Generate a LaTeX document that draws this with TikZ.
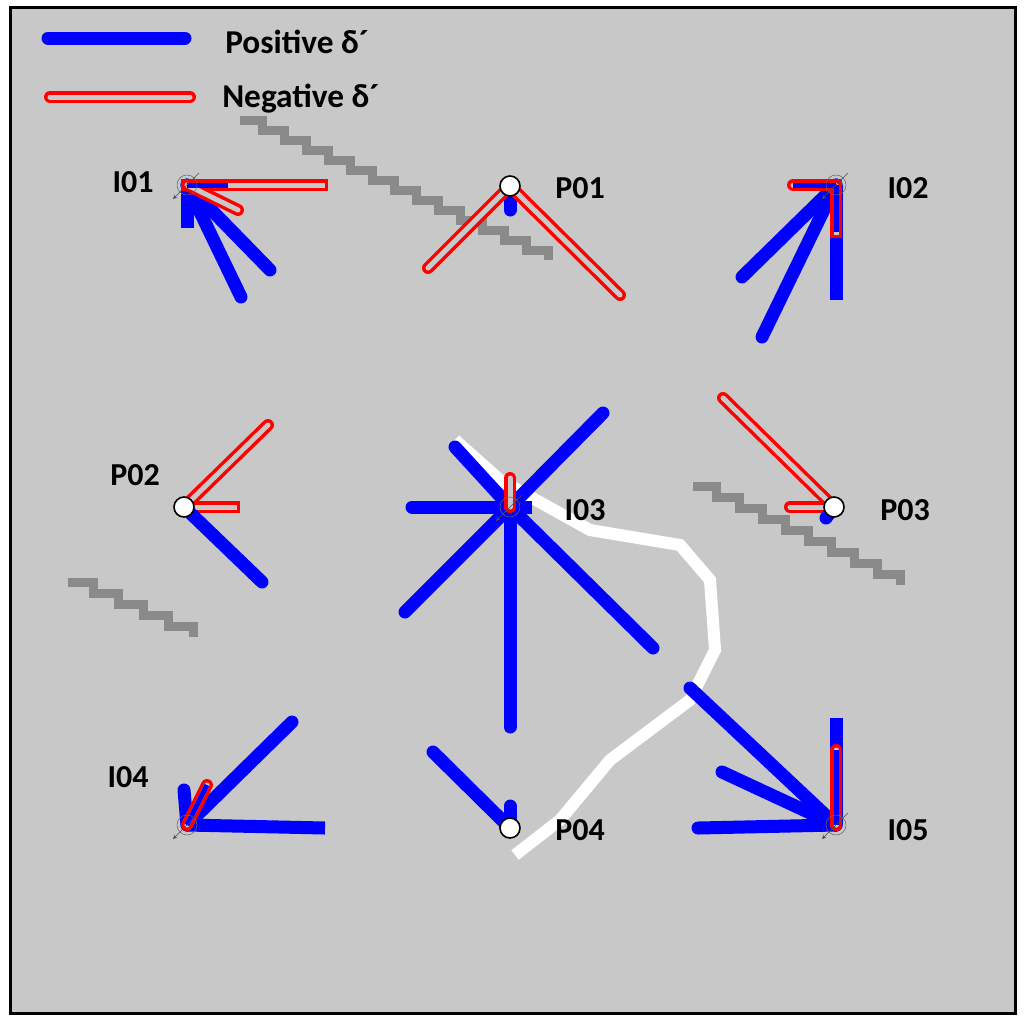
\documentclass[tikz,border=0pt]{standalone}
\usepackage{fontspec}
\setmainfont{Carlito}
\usetikzlibrary{calc}
\definecolor{bg}{RGB}{200,200,200}
\definecolor{stair}{RGB}{138,138,138}
\begin{document}
\begin{tikzpicture}[x=0.75pt,y=-0.75pt,
 plus/.style={draw=blue,line width=13*0.75pt,line cap=round},
 minus/.style={draw=red,double=bg,double distance=5*0.75pt,line width=3.5*0.75pt,line cap=round},
 inner/.style={draw=blue,line width=5*0.75pt},
 inode/.style={circle,draw=black!60,thin,minimum size=20*0.75pt,inner sep=0pt},
 pnode/.style={circle,draw=black,fill=white,line width=1.2pt,minimum size=20*0.75pt,inner sep=0pt},
 lab/.style={font=\fontsize{24}{26}\selectfont\bfseries,inner sep=0pt},
 leg/.style={font=\fontsize{25}{28}\selectfont\bfseries,inner sep=0pt},
 st/.style={draw=stair,line width=9*0.75pt}]
\useasboundingbox (0,0) rectangle (1024,1022);
\fill[white] (0,0) rectangle (1024,1022);
\draw[fill=bg,line width=3*0.75pt] (10,7) rectangle (1015,1013);
% staircases
\draw[st] (240,120) \foreach \i in {1,...,14}{ -- ++(22,0) -- ++(0,10)};
\draw[st] (693,486) \foreach \i in {1,...,9}{ -- ++(23,0) -- ++(0,11)};
\draw[st] (68,582) \foreach \i in {1,...,5}{ -- ++(25,0) -- ++(0,11)};
\draw[white,line width=12*0.75pt,line join=miter] (455,440) -- (500,480) -- (590,530) -- (680,545) -- (710,580) -- (715,650) -- (690,700) -- (610,760) -- (560,820) -- (515,855);
% legend
\coordinate (lp1) at (48,38); \coordinate (lp2) at (185,38);
\coordinate (ln1) at (50,97); \coordinate (ln2) at (190,97);
\draw[plus] (lp1) -- (lp2);
\draw[minus] (ln1) -- (ln2);
\node[leg,anchor=west] (tp) at (225,42) {Positive δ´};
\node[leg,anchor=west] (tn) at (222,99) {Negative δ´};
% node coordinates
\coordinate (I01) at (187,185); \coordinate (P01) at (510,186); \coordinate (I02) at (836,185);
\coordinate (P02) at (184,507); \coordinate (I03) at (510,507); \coordinate (P03) at (834,507);
\coordinate (I04) at (187,825); \coordinate (P04) at (510,828); \coordinate (I05) at (836,825);
% I01
\coordinate (a1) at (241,297); \coordinate (a2) at (270,270); \coordinate (a3) at (187,228);
\coordinate (a4) at (228,185); \coordinate (a5) at (322,185); \coordinate (a6) at (238,210);
\draw[plus] (I01) -- (a1); \draw[plus] (I01) -- (a2); \draw[plus,line cap=butt] (I01) -- (a3);
\draw[minus,line cap=rect] (I01) -- (a5); \draw[minus] (I01) -- (a6);
\draw[inner] (I01) -- (a4);
% P01
\coordinate (b1) at (510,210); \coordinate (b2) at (428,268); \coordinate (b3) at (620,295);
\draw[plus] (P01) -- (b1); \draw[minus] (P01) -- (b2); \draw[minus] (P01) -- (b3);
% I02
\coordinate (c1) at (742,277); \coordinate (c2) at (762,337); \coordinate (c3) at (836,300);
\coordinate (c4) at (836,232); \coordinate (c5) at (793,185);
\draw[plus] (I02) -- (c1); \draw[plus] (I02) -- (c2); \draw[plus,line cap=butt] (I02) -- (c3);
\draw[minus,line cap=rect] (I02) -- (c4); \draw[minus] (I02) -- (c5);
\draw[inner] (I02) -- (c4); \draw[inner] (I02) -- (c5);
% P02
\coordinate (d1) at (268,425); \coordinate (d2) at (234,507); \coordinate (d3) at (262,582);
\draw[minus] (P02) -- (d1); \draw[minus,line cap=rect] (P02) -- (d2); \draw[plus] (P02) -- (d3);
% I03
\coordinate (e1) at (412,507); \coordinate (e2) at (532,507); \coordinate (e3) at (603,413);
\coordinate (e4) at (455,447); \coordinate (e5) at (405,612); \coordinate (e6) at (510,727);
\coordinate (e7) at (653,648); \coordinate (e8) at (510,478);
\draw[plus] (I03) -- (e1); \draw[plus,line cap=butt] (I03) -- (e2); \draw[plus] (I03) -- (e3);
\draw[plus] (I03) -- (e4); \draw[plus] (I03) -- (e5); \draw[plus] (I03) -- (e6);
\draw[plus] (I03) -- (e7);
\draw[minus] (I03) -- (e8);
% P03
\coordinate (f1) at (723,398); \coordinate (f2) at (790,507); \coordinate (f3) at (826,518);
\draw[minus] (P03) -- (f1); \draw[minus] (P03) -- (f2); \draw[plus] (P03) -- (f3);
% I04
\coordinate (g1) at (292,722); \coordinate (g2) at (325,828); \coordinate (g3) at (184,790); \coordinate (g4) at (207,785);
\draw[plus] (I04) -- (g1); \draw[plus,line cap=butt] (I04) -- (g2); \draw[plus] (I04) -- (g3); \draw[minus] (I04) -- (g4);
\draw[inner] (I04) -- (g4);
% P04
\coordinate (h1) at (433,752); \coordinate (h2) at (510,806);
\draw[plus] (P04) -- (h1); \draw[plus] (P04) -- (h2);
% I05
\coordinate (k1) at (690,688); \coordinate (k2) at (722,772); \coordinate (k3) at (698,828); \coordinate (k4) at (836,718); \coordinate (k5) at (836,750);
\draw[plus] (I05) -- (k1); \draw[plus] (I05) -- (k2); \draw[plus] (I05) -- (k3); \draw[plus,line cap=butt] (I05) -- (k4); \draw[minus] (I05) -- (k5);
\draw[inner] (I05) -- (k5);
% node markers
\foreach \n in {I01,I02,I03,I04,I05}{
 \node[inode] (m\n) at (\n) {};
 \draw[-stealth,black!70,thin] ($(\n)+(12,-12)$) -- ($(\n)+(-14,14)$);}
\foreach \n in {P01,P02,P03,P04}{ \node[pnode] (m\n) at (\n) {}; }
% labels
\node[lab] (tI01) at (133,182) {I01};
\node[lab] (tP01) at (580,188) {P01};
\node[lab] (tI02) at (908,188) {I02};
\node[lab] (tP02) at (135,475) {P02};
\node[lab] (tI03) at (585,510) {I03};
\node[lab] (tP03) at (905,510) {P03};
\node[lab] (tI04) at (128,777) {I04};
\node[lab] (tP04) at (580,830) {P04};
\node[lab] (tI05) at (908,830) {I05};
\end{tikzpicture}
\end{document}
